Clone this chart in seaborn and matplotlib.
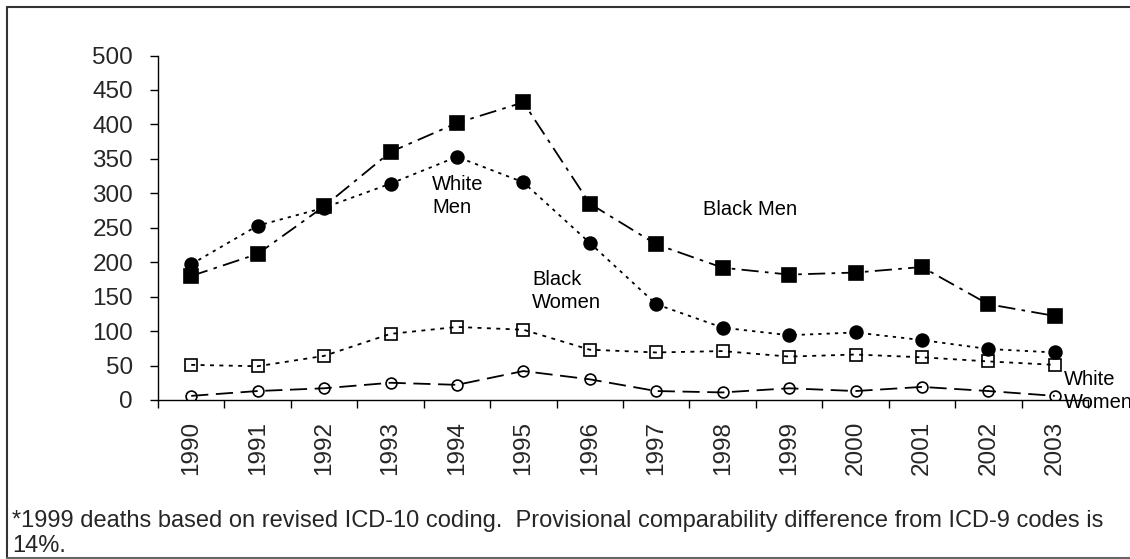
import matplotlib
matplotlib.use("Agg")
import matplotlib.pyplot as plt
import seaborn as sns
import pandas as pd
from matplotlib.lines import Line2D

# values
years = ['1990', '1991', '1992', '1993', '1994', '1995', '1996',
         '1997', '1998', '1999', '2000', '2001', '2002', '2003']
black_men = [180, 212, 281, 360, 402, 432, 285, 226, 192, 182, 185, 193, 139, 122]
white_men = [197, 253, 279, 314, 353, 316, 228, 139, 105, 94, 98, 87, 74, 69]
black_women = [51, 49, 64, 96, 106, 102, 73, 69, 71, 63, 66, 62, 56, 51]
white_women = [6, 13, 17, 25, 22, 42, 30, 13, 11, 17, 13, 19, 13, 6]
yticks = [0, 50, 100, 150, 200, 250, 300, 350, 400, 450, 500]
footnote = ("*1999 deaths based on revised ICD-10 coding.  Provisional comparability "
            "difference from ICD-9 codes is\n14%.")

sns.set_style("ticks")
plt.rcParams['font.family'] = ['Liberation Sans', 'DejaVu Sans']

fig = plt.figure(figsize=(11.3, 5.59), dpi=100)
ax = fig.add_axes([158 / 1130, 1 - 400 / 559, 930 / 1130, 344.5 / 559])

pos = list(range(len(years)))
lw = 1.3
series = [
    (black_men, 's', 'black', (0, (9.5, 3.5, 2, 3.5)), 9.6),
    (white_men, 'o', 'black', (0, (1.8, 2.8)), 9.2),
    (black_women, 's', 'none', (0, (2.2, 3)), 8.2),
    (white_women, 'o', 'none', (0, (9.5, 4.2)), 7.8),
]
for vals, mk, fc, ls, ms in series:
    df = pd.DataFrame({'x': pos, 'y': vals})
    sns.lineplot(data=df, x='x', y='y', ax=ax, color='black', linewidth=lw,
                 linestyle=ls, marker=mk, markersize=ms, markerfacecolor=fc,
                 markeredgecolor='black', markeredgewidth=1.2)

ax.set_xlim(-0.5, len(years) - 0.5)
ax.set_ylim(0, 500)
ax.set_yticks(yticks)
ax.set_xticks([p - 0.5 for p in range(len(years) + 1)])
ax.set_xticklabels([])
ax.set_xticks(pos, minor=True)
ax.set_xticklabels(years, minor=True, rotation=90, fontsize=17.5)
ax.tick_params(axis='x', which='major', length=6, width=1, direction='out', color='black')
ax.tick_params(axis='x', which='minor', length=0, pad=15)
ax.tick_params(axis='y', length=6, width=1, direction='out', pad=12, labelsize=17.5, color='black')
ax.set_xlabel('')
ax.set_ylabel('')
for s in ['top', 'right']:
    ax.spines[s].set_visible(False)
for s in ['left', 'bottom']:
    ax.spines[s].set_color('black')
    ax.spines[s].set_linewidth(1)

lab = dict(fontsize=14.5, color='black', va='top', ha='left')
ax.text(432 / 1130, 1 - 175 / 559, 'White\nMen', transform=fig.transFigure, linespacing=1.25, **lab)
ax.text(703 / 1130, 1 - 200 / 559, 'Black Men', transform=fig.transFigure, **lab)
ax.text(532 / 1130, 1 - 270 / 559, 'Black\nWomen', transform=fig.transFigure, linespacing=1.25, **lab)
ax.text(1064 / 1130, 1 - 370 / 559, 'White\nWomen', transform=fig.transFigure, linespacing=1.25, **lab)

fig.text(12 / 1130, 1 - 510 / 559, footnote, fontsize=17, va='top', ha='left', linespacing=1.2)

# frame around the chart (cut off on the right)
fig.add_artist(Line2D([7 / 1130, 7 / 1130], [1 - 7 / 559, 1 - 558 / 559],
                      transform=fig.transFigure, color='#333333', lw=1.5))
fig.add_artist(Line2D([7 / 1130, 1], [1 - 7 / 559, 1 - 7 / 559],
                      transform=fig.transFigure, color='#333333', lw=1.5))
fig.add_artist(Line2D([7 / 1130, 1], [1 - 558 / 559, 1 - 558 / 559],
                      transform=fig.transFigure, color='#666666', lw=1.5))

fig.savefig('out.png', dpi=100)
